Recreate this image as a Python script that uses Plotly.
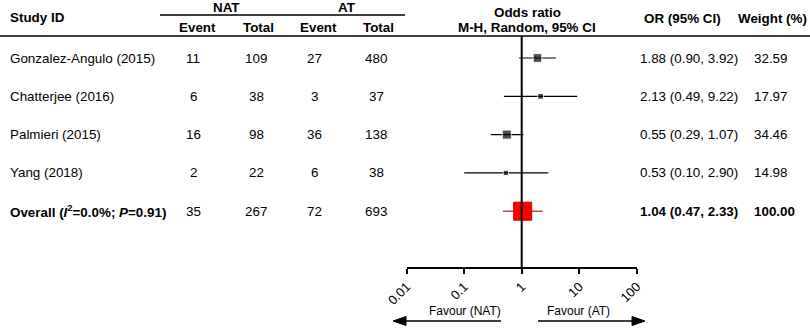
import plotly.graph_objects as go

# ---------------- data ----------------
studies = ["Gonzalez-Angulo (2015)", "Chatterjee (2016)", "Palmieri (2015)", "Yang (2018)"]
nat_event = [11, 6, 16, 2]
nat_total = [109, 38, 98, 22]
at_event = [27, 3, 36, 6]
at_total = [480, 37, 138, 38]
odds = [1.88, 2.13, 0.55, 0.53]
ci_low = [0.90, 0.49, 0.29, 0.10]
ci_high = [3.92, 9.22, 1.07, 2.90]
weights = [32.59, 17.97, 34.46, 14.98]

overall_label = "Overall (<i>I</i><sup>2</sup>=0.0%; <i>P</i>=0.91)"
overall_counts = [35, 267, 72, 693]
overall_or = 1.04
overall_low = 0.47
overall_high = 2.33
overall_weight = 100.00

tick_vals = [0.01, 0.1, 1, 10, 100]
tick_text = ["0.01", "0.1", "1", "10", "100"]

# ---------------- layout helpers ----------------
W, H = 810, 330
FONT = "Arial, Liberation Sans, sans-serif"
FS = 13.4
row0, step = 58, 38.3
rows_y = [row0 + i * step for i in range(len(studies))]
overall_y = row0 + len(studies) * step
axis_y = 268


def px(x):
    return x / W


fig = go.Figure()

# CI lines for studies
xs, ys = [], []
for lo, hi, y in zip(ci_low, ci_high, rows_y):
    xs += [lo, hi, None]
    ys += [y, y, None]
fig.add_trace(go.Scatter(x=xs, y=ys, mode="lines",
                         line=dict(color="black", width=1.2),
                         hoverinfo="skip", showlegend=False))
# study markers
fig.add_trace(go.Scatter(x=odds, y=rows_y, mode="markers",
                         marker=dict(symbol="square", color="black",
                                     size=[2.2 + 0.2 * w for w in weights]),
                         showlegend=False))
# overall CI
fig.add_trace(go.Scatter(x=[overall_low, overall_high], y=[overall_y, overall_y],
                         mode="lines", line=dict(color="#c24a48", width=1.5),
                         showlegend=False))
fig.add_trace(go.Scatter(x=[overall_or], y=[overall_y], mode="markers",
                         marker=dict(symbol="square", color="#ff0000", size=18,
                                     line=dict(color="#d00000", width=1)),
                         showlegend=False))

ann = []


def text(x, y, s, anchor="center", bold=False, size=FS):
    ann.append(dict(x=px(x), y=y, xref="paper", yref="y", text=(f"<b>{s}</b>" if bold else s),
                    showarrow=False, xanchor=anchor, yanchor="middle",
                    font=dict(family=FONT, size=size, color="black")))


# headers
text(8, 17, "Study ID", "left", True)
text(227, 7, "NAT", bold=True)
text(347, 7, "AT", bold=True)
for xh, s in zip([197, 258, 318, 378], ["Event", "Total", "Event", "Total"]):
    text(xh, 27, s, bold=True)
text(527, 12.5, "Odds ratio", bold=True)
text(527, 27, "M-H, Random, 95% CI", bold=True)
text(682, 18, "OR (95% CI)", bold=True)
text(772, 18, "Weight (%)", bold=True)

cols = [193, 256, 314, 376]
for i, y in enumerate(rows_y):
    text(8, y, studies[i], "left")
    for xc, v in zip(cols, [nat_event[i], nat_total[i], at_event[i], at_total[i]]):
        text(xc, y, str(v))
    text(638, y, f"{odds[i]:.2f} ({ci_low[i]:.2f}, {ci_high[i]:.2f})", "left")
    text(752, y, f"{weights[i]:.2f}", "left")

text(8, overall_y, overall_label, "left", True)
for xc, v in zip(cols, overall_counts):
    text(xc, overall_y, str(v))
text(638, overall_y, f"{overall_or:.2f} ({overall_low:.2f}, {overall_high:.2f})", "left", True)
text(752, overall_y, f"{overall_weight:.2f}", "left", True)

# favour labels
text(465, 311, "Favour (NAT)", size=12)
text(578, 311, "Favour (AT)", size=12)

# arrows (lines + triangular heads)
ay = 321
shapes = [
    dict(type="line", xref="paper", yref="y", x0=px(160), x1=px(405), y0=15, y1=15,
         line=dict(color="black", width=1.5)),
    dict(type="line", xref="paper", yref="y", x0=0, x1=1, y0=36, y1=36,
         line=dict(color="black", width=1.5)),
    dict(type="line", xref="x", yref="y", x0=1, x1=1, y0=36, y1=axis_y,
         line=dict(color="black", width=2)),
    dict(type="line", xref="paper", yref="y", x0=px(402), x1=px(501), y0=ay, y1=ay,
         line=dict(color="black", width=1.5)),
    dict(type="line", xref="paper", yref="y", x0=px(538), x1=px(636), y0=ay, y1=ay,
         line=dict(color="black", width=1.5)),
]
for tip, base in [(393, 406), (645, 632)]:
    shapes.append(dict(
        type="path", xref="paper", yref="y",
        path=f"M {px(tip)} {ay} L {px(base)} {ay - 4.5} L {px(base)} {ay + 4.5} Z",
        fillcolor="black", line=dict(color="black", width=1)))

fig.update_layout(
    template="none",
    width=W, height=H, margin=dict(l=0, r=0, t=0, b=0, pad=0), autosize=False,
    paper_bgcolor="white", plot_bgcolor="rgba(0,0,0,0)",
    showlegend=False, annotations=ann, shapes=shapes,
    xaxis=dict(type="log", range=[-2, 2], domain=[px(406.7), px(636.7)],
               anchor="free", position=(H - axis_y) / H, automargin=False,
               showline=True, linecolor="black", linewidth=2,
               ticks="outside", ticklen=5, tickwidth=2, tickcolor="black",
               tickvals=tick_vals, ticktext=tick_text, tickangle=-45,
               tickfont=dict(family=FONT, size=13, color="black"),
               showgrid=False, zeroline=False, fixedrange=True),
    yaxis=dict(range=[H, 0], domain=[0, 1], visible=False, automargin=False,
               fixedrange=True),
)

fig.write_html("out.html", config={"displayModeBar": False},
               post_script="document.body.style.margin='0';document.body.style.overflow='hidden';")
